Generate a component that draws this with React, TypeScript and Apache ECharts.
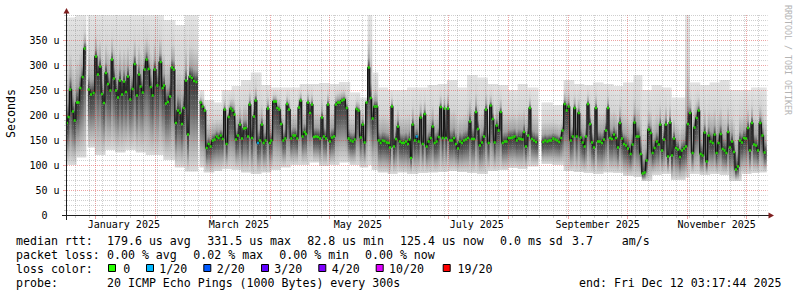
import React, { useEffect, useRef } from 'react';
import * as echarts from 'echarts';

// ---------- time frame ----------
const DAY = 86400000;
const JAN1 = Date.UTC(2025, 0, 1);
const END = Date.UTC(2025, 11, 12, 3, 17, 44);
const START = END - 360 * DAY;
const t = (d: number) => JAN1 + d * DAY;

// ---------- data (days since 2025-01-01, median rtt in µs) ----------
const days: number[] = [
  -14.2, -13.3, -12.5, -11.1, -10.2, -9.0, -8.2, -7.3, -6.1, -5.1,
  -4.0, -3.0, -1.8, -0.5, 0.7, 1.7, 2.9, 3.8, 4.8, 5.8,
  6.9, 8.1, 8.9, 9.9, 11.0, 12.0, 13.0, 14.1, 15.1, 16.1,
  17.1, 18.3, 19.5, 20.6, 21.7, 22.8, 23.6, 24.7, 25.7, 26.7,
  27.7, 28.8, 29.8, 30.8, 32.2, 33.9, 34.9, 35.6, 36.6, 37.6,
  38.7, 39.7, 40.6, 41.7, 42.8, 43.8, 44.8, 45.7, 46.9, 47.9,
  48.9, 49.9, 51.0, 52.2, 53.3, 54.4, 55.4, 56.5, 57.5, 58.5,
  59.5, 60.6, 61.6, 62.6, 63.6, 64.7, 65.7, 66.7, 67.7, 68.8,
  69.8, 70.8, 71.8, 72.5, 73.5, 74.6, 75.6, 76.6, 77.5, 78.7,
  79.5, 80.7, 81.7, 82.6, 83.8, 84.8, 85.8, 86.7, 87.7, 88.9,
  89.9, 90.6, 92.0, 93.0, 93.7, 94.7, 95.7, 96.8, 97.8, 98.7,
  99.7, 100.9, 101.9, 102.9, 103.9, 104.8, 105.7, 106.7, 107.7, 108.4,
  109.4, 110.5, 111.5, 112.5, 113.5, 114.6, 115.6, 116.6, 117.6, 118.7,
  119.7, 120.7, 121.7, 122.8, 123.8, 124.8, 125.8, 126.9, 127.9, 129.3,
  130.3, 131.3, 132.4, 133.4, 134.4, 135.4, 136.5, 137.5, 138.5, 139.5,
  140.6, 141.6, 142.6, 143.6, 144.7, 145.7, 146.7, 147.7, 148.7, 149.8,
  150.8, 151.5, 152.5, 153.5, 154.6, 155.6, 156.6, 157.6, 158.7, 159.7,
  160.7, 161.5, 162.3, 163.1, 164.2, 165.2, 166.2, 167.2, 168.3, 169.3,
  170.3, 171.3, 172.4, 173.4, 174.4, 175.4, 176.5, 177.5, 178.5, 179.5,
  180.2, 181.2, 182.3, 183.3, 184.3, 185.3, 186.4, 187.4, 188.4, 189.4,
  190.5, 191.5, 192.5, 193.5, 194.6, 195.6, 196.6, 197.6, 198.7, 199.7,
  200.7, 202.1, 203.1, 204.2, 205.2, 206.2, 207.2, 208.3, 209.3, 210.3,
  211.3, 212.4, 213.4, 214.4, 215.4, 216.5, 217.5, 218.5, 219.5, 220.2,
  221.2, 222.3, 223.2, 224.3, 225.3, 226.4, 228.3, 230.1, 231.1, 232.2,
  233.2, 234.2, 235.2, 236.3, 237.3, 238.3, 239.3, 240.0, 241.1, 242.1,
  243.1, 244.2, 245.2, 246.2, 247.2, 248.3, 249.3, 250.3, 251.3, 252.0,
  253.0, 254.1, 255.1, 256.1, 257.1, 258.2, 259.2, 260.2, 261.2, 262.3,
  263.3, 264.3, 265.3, 266.4, 267.4, 268.4, 269.4, 270.5, 271.5, 272.5,
  273.5, 274.9, 275.9, 276.9, 278.0, 279.0, 280.1, 281.1, 282.1, 283.1,
  284.2, 285.2, 286.2, 287.2, 288.3, 289.3, 290.1, 291.0, 292.0, 293.0,
  294.1, 295.1, 296.1, 297.1, 298.2, 299.2, 300.2, 301.2, 302.3, 303.3,
  304.3, 305.4, 306.7, 307.7, 308.8, 309.8, 310.8, 311.8, 312.9, 313.9,
  314.9, 315.9, 317.0, 318.0, 319.0, 320.0, 321.1, 322.1, 323.1, 324.0,
  324.9, 325.8, 326.9, 327.9, 328.9, 329.9, 331.0, 332.0, 333.0, 334.1,
  335.1, 336.1, 337.1, 338.2, 339.2, 340.2, 341.4, 342.5, 343.6,
];

const median: (number | null)[] = [
  184, 196, 251, 207, 189, 225, 225, 254, 276, 333,
  null, 251, 241, 244, 317, 281, 297, 242, 224, 284,
  262, 249, 311, 273, 249, 235, 269, 241, 267, 246,
  277, 231, 252, 302, 239, 281, 257, 245, 291, 311,
  292, 256, 239, 291, 259, 306, 254, 259, 223, 226,
  237, 295, 291, 184, 209, 204, 182, 214, 269, 161,
  277, 274, 268, 266, null, 225, 217, 209, 134, 142,
  137, 149, 151, 157, 154, 159, 152, 211, 142, 196,
  213, 209, 201, 151, 159, 181, 153, 173, 174, 157,
  221, 154, 197, 229, 144, 149, 181, 144, 149, 213,
  144, 149, 227, 227, 214, 211, 182, 149, 153, 222,
  211, 153, 159, 159, 153, 215, 229, 157, 166, 162,
  225, 204, 221, 156, 157, 156, 153, 195, 157, 153,
  221, 147, 155, 157, 221, 225, 225, 229, 231, 214,
  153, 149, 147, 151, 212, 209, 155, 181, 145, 225,
  295, 234, 193, 217, 217, 149, 144, 149, 148, 145,
  144, 135, 217, 137, 152, 177, 147, 144, 144, 147,
  142, 151, 114, 181, 149, 157, 147, 195, 142, 202,
  137, 147, 154, 177, 144, 147, 156, 216, 154, 213,
  154, 213, 149, 149, 154, 142, 133, 147, 144, 149,
  151, 154, 187, 152, 152, 206, 172, 139, 145, 157,
  211, 144, 219, 192, 145, 179, 169, 206, 144, 147,
  147, 154, 154, 155, 157, 149, 153, 152, 151, 166,
  137, 159, 214, 152, 149, 146, null, 146, 149, 147,
  149, 149, 153, 151, 149, 146, 154, 169, 222, 209,
  217, 149, 157, 214, 157, 204, 155, 145, 137, 157,
  222, 182, 145, 135, 214, 147, 147, 144, 151, 169,
  214, 154, 152, 161, 154, 135, 184, 153, 142, 139,
  133, 122, 141, 185, 157, 157, 122, 83, 85, 109,
  171, 164, 124, 134, 147, 141, 181, 129, 151, 181,
  117, 185, 119, 153, 134, 131, 116, 129, 133, 137,
  182, 204, 124, 175, 194, 209, 122, 119, 165, 107,
  159, 147, 144, 161, 124, 144, 162, 132, 129, 124,
  166, 135, 147, 126, 91, 97, 149, 145, 154, 153,
  174, 129, 184, 141, 139, 129, 184, 159, 125,
];

// days whose median had 1/20 packet loss
const loss1Days: number[] = [83.8, 165.2];

// smoke envelope (min / max ping) by stretches starting at these days
const smokeFrom: number[] = [
  -14.7, -9.5, -4.4, 0.7, 5.8, 10.5, 15.6, 20.7, 25.8, 30.5,
  35.6, 40.7, 45.8, 52.5, 55.6, 60.7, 65.3, 70.4, 75.6, 80.7,
  85.3, 90.4, 95.6, 100.7, 105.3, 110.4, 115.6, 120.7, 125.3, 130.5,
  135.6, 139.7, 142.5, 145.3, 150.4, 155.6, 160.7, 165.9, 171.0, 176.1,
  181.2, 186.4, 191.5, 196.6, 201.7, 206.9, 212.0, 217.1, 222.3, 230.0,
  235.1, 240.2, 245.4, 250.5, 255.6, 260.8, 265.9, 271.0, 276.1, 280.2,
  285.8, 290.9, 296.0, 302.7, 305.1, 310.0, 315.1, 320.2, 325.3, 332.0,
  337.1, 341.2,
];
const smokeLow: number[] = [
  100, 115, 135, 120, 130, 125, 130, 125, 120, 120,
  110, 95, 87, 95, 85, 88, 92, 90, 85, 82,
  85, 90, 95, 100, 100, 105, 98, 100, 105, 100,
  95, 100, 90, 85, 82, 85, 82, 84, 85, 86,
  88, 86, 84, 82, 88, 90, 94, 92, 97, 102,
  100, 88, 86, 84, 82, 85, 84, 78, 76, 68,
  80, 82, 70, 75, 82, 80, 82, 80, 68, 82,
  84, 85,
];
const smokeHigh: number[] = [
  395, 400, 400, 400, 400, 400, 400, 400, 400, 400,
  390, 380, 400, 250, 230, 225, 250, 258, 270, 285,
  260, 255, 255, 255, 262, 262, 264, 262, 266, 245,
  235, 400, 285, 255, 250, 250, 255, 255, 260, 262,
  270, 255, 280, 275, 262, 260, 250, 262, 255, 225,
  220, 270, 262, 260, 265, 262, 258, 265, 280, 250,
  260, 255, 235, 400, 265, 260, 265, 270, 250, 250,
  255, 255,
];

// ---------- axis text ----------
const xLabelText: string[] = ['January 2025', 'March 2025', 'May 2025', 'July 2025', 'September 2025', 'November 2025'];
const xLabelDays: number[] = [15, 74, 135, 196, 258, 319];

// ---------- legend text ----------
const legendRows: [number, number, string][] = [
  [16, 241, 'median rtt:'], [107, 241, '179.6 us avg'], [207.3, 241, '331.5 us max'],
  [307.3, 241, '82.8 us min'], [400, 241, '125.4 us now'], [500, 241, '0.0 ms sd'],
  [572, 241, '3.7'], [621.7, 241, 'am/s'],
  [16, 255, 'packet loss:'], [107, 255, '0.00 % avg'], [193.3, 255, '0.02 % max'],
  [279.3, 255, '0.00 % min'], [365, 255, '0.00 % now'],
  [16, 269, 'loss color:'],
  [16, 283, 'probe:'], [107, 283, '20 ICMP Echo Pings (1000 Bytes) every 300s'],
  [579, 283, 'end: Fri Dec 12 03:17:44 2025'],
];
const lossLabels: string[] = ['0', '1/20', '2/20', '3/20', '4/20', '10/20', '19/20'];
const lossColors: string[] = ['#26ff00', '#00b8ff', '#0059ff', '#5e00ff', '#7e00ff', '#dd00ff', '#ff0000'];
const lossBoxX: number[] = [108, 146, 203.3, 261, 318.3, 375.7, 442.7];
const lossTextX: number[] = [123.3, 159.3, 216.7, 274.3, 331.7, 389, 457.5];

const MONO = '"DejaVu Sans Mono", monospace';
const GRID = 'rgba(140,140,140,0.42)';
const MGRID = 'rgba(215,50,50,0.45)';

function smokeAt(d: number) {
  let k = 0;
  for (let j = 0; j < smokeFrom.length; j++) if (smokeFrom[j] <= d) k = j;
  return k;
}

function smokeFill(m: number) {
  const s = (v: number) => Math.min(1, Math.max(0, v));
  return new echarts.graphic.LinearGradient(0, 0, 0, 1, [
    { offset: 0, color: '#e4e4e4' },
    { offset: s(m * 0.5), color: '#d3d3d3' },
    { offset: s(m * 0.82), color: '#a4a4a4' },
    { offset: s(m), color: '#383838' },
    { offset: s(m + (1 - m) * 0.3), color: '#5e5e5e' },
    { offset: s(m + (1 - m) * 0.7), color: '#acacac' },
    { offset: 1, color: '#dcdcdc' },
  ]);
}

export default function App() {
  const ref = useRef<HTMLDivElement>(null);

  useEffect(() => {
    if (!ref.current) return;
    const chart = echarts.init(ref.current, null, { renderer: 'svg' });

    const weekGrid: number[] = [];
    for (let w = Date.UTC(2024, 11, 22); w < END; w += 7 * DAY) weekGrid.push(w);
    const monthGrid: number[] = [];
    for (let m = 0; m < 12; m++) monthGrid.push(Date.UTC(2025, m, 1));
    const hValues: number[] = [];
    for (let v = 10; v <= 400; v += 10) hValues.push(v);

    const labelTimes = xLabelDays.map((d) => t(d));
    const medData = days.map((d, i) => [t(d), median[i] == null ? '-' : median[i]]);

    const graphics: any[] = [
      // axes
      { type: 'line', z: 100, shape: { x1: 66.5, y1: 220, x2: 66.5, y2: 13 }, style: { stroke: '#1f1f1f', lineWidth: 1 } },
      { type: 'polygon', z: 100, shape: { points: [[63.5, 13.5], [69.5, 13.5], [66.5, 8]] }, style: { fill: '#7f1f1f' } },
      { type: 'line', z: 100, shape: { x1: 62, y1: 215.5, x2: 769, y2: 215.5 }, style: { stroke: '#1f1f1f', lineWidth: 1 } },
      { type: 'polygon', z: 100, shape: { points: [[768.5, 212.5], [768.5, 218.5], [774, 215.5]] }, style: { fill: '#7f1f1f' } },
      // axis title
      {
        type: 'text', z: 100, x: 10.5, y: 113.5, rotation: Math.PI / 2,
        style: { text: 'Seconds', font: `11.6px ${MONO}`, fill: '#000', align: 'center', verticalAlign: 'middle' },
      },
      {
        type: 'text', z: 100, x: 787.5, y: 60, rotation: -Math.PI / 2,
        style: { text: 'RRDTOOL / TOBI OETIKER', font: `8.3px ${MONO}`, fill: '#b4b4b4', align: 'center', verticalAlign: 'middle' },
      },
    ];
    legendRows.forEach(([x, y, text]) => {
      graphics.push({
        type: 'text', z: 100, x, y,
        style: { text, font: `11.6px ${MONO}`, fill: '#000', align: 'left', verticalAlign: 'middle' },
      });
    });
    lossLabels.forEach((lab, i) => {
      graphics.push({
        type: 'rect', z: 100, shape: { x: lossBoxX[i] + 0.5, y: 264.5, width: 7, height: 7 },
        style: { fill: lossColors[i], stroke: '#000', lineWidth: 1 },
      });
      graphics.push({
        type: 'text', z: 100, x: lossTextX[i], y: 269,
        style: { text: lab, font: `11.6px ${MONO}`, fill: '#000', align: 'left', verticalAlign: 'middle' },
      });
    });

    const option: any = {
      animation: false,
      backgroundColor: '#ffffff',
      grid: { left: 65.6, top: 15, width: 702, height: 200, containLabel: false },
      xAxis: {
        type: 'value', min: START, max: END,
        axisLine: { show: false }, axisTick: { show: false }, splitLine: { show: false },
        axisLabel: {
          customValues: labelTimes,
          formatter: (v: number) => {
            const i = labelTimes.indexOf(v);
            return i >= 0 ? xLabelText[i] : '';
          },
          fontFamily: MONO, fontSize: 10, color: '#000', margin: 4,
        },
      },
      yAxis: {
        type: 'value', min: 0, max: 400, interval: 50,
        axisLine: { show: false }, axisTick: { show: false }, splitLine: { show: false },
        axisLabel: {
          formatter: (v: number) => (v === 0 ? '{z|0}' : v >= 400 ? '' : `${v} u`),
          fontFamily: MONO, fontSize: 10, color: '#000', margin: 6,
          rich: { z: { fontFamily: MONO, fontSize: 10, color: '#000', padding: [0, 12, 0, 0] } },
        },
      },
      series: [
        {
          type: 'custom', name: 'smoke', silent: true, clip: true, z: 1,
          data: medData,
          renderItem: (params: any, api: any) => {
            const i = params.dataIndex;
            const m = median[i];
            if (m == null) return null;
            const d = days[i];
            const dl = i > 0 ? (days[i - 1] + d) / 2 : d - 0.5;
            const dr = i < days.length - 1 ? (d + days[i + 1]) / 2 : d + 0.8;
            const k = smokeAt(d);
            const hi = Math.max(smokeHigh[k], m + 6);
            const lo = Math.min(smokeLow[k], m - 6);
            const a = api.coord([t(dl), hi]);
            const b = api.coord([t(dr), lo]);
            const frac = (hi - m) / (hi - lo);
            return {
              type: 'rect',
              shape: { x: a[0], y: a[1], width: b[0] - a[0] + 0.6, height: b[1] - a[1] },
              style: { fill: smokeFill(frac) },
            };
          },
        },
        {
          type: 'custom', name: 'vgrid', silent: true, clip: false, z: 2,
          data: [...weekGrid.map((w) => [w, 0]), ...monthGrid.map((m) => [m, 1])],
          renderItem: (params: any, api: any) => {
            const tt = api.value(0);
            const kind = api.value(1);
            const p = api.coord([tt, 0]);
            const x = Math.round(p[0]) + 0.5;
            const yb = 215.5;
            const yt = api.coord([tt, 400])[1];
            const color = kind ? MGRID : GRID;
            return {
              type: 'group',
              children: [
                { type: 'line', shape: { x1: x, y1: yt, x2: x, y2: 215 }, style: { stroke: color, lineWidth: 1, lineDash: [1, 1] } },
                { type: 'line', shape: { x1: x, y1: yb, x2: x, y2: yb + (kind ? 3.5 : 2.5) }, style: { stroke: color, lineWidth: 1 } },
              ],
            };
          },
        },
        {
          type: 'custom', name: 'hgrid', silent: true, clip: false, z: 2,
          data: hValues.map((v) => [START, v]),
          renderItem: (params: any, api: any) => {
            const v = api.value(1);
            const major = v % 50 === 0 && v < 400;
            const p = api.coord([START, v]);
            const y = Math.round(p[1]) + 0.5;
            const x2 = api.coord([END, v])[0];
            const color = major ? MGRID : GRID;
            return {
              type: 'group',
              children: [
                { type: 'line', shape: { x1: 67, y1: y, x2: x2, y2: y }, style: { stroke: color, lineWidth: 1, lineDash: [1, 1] } },
                { type: 'line', shape: { x1: major ? 63 : 64, y1: y, x2: 66, y2: y }, style: { stroke: color, lineWidth: 1 } },
              ],
            };
          },
        },
        {
          type: 'line', name: 'medianStep', silent: true, step: 'middle', z: 3,
          showSymbol: false, connectNulls: false,
          lineStyle: { color: '#151515', width: 1.3 },
          data: medData,
        },
        {
          type: 'scatter', name: 'median', silent: true, z: 4,
          symbol: 'rect', symbolSize: [2.2, 2.5],
          itemStyle: {
            color: (p: any) => (loss1Days.indexOf(days[p.dataIndex]) >= 0 ? lossColors[1] : lossColors[0]),
          },
          data: medData,
        },
      ],
      graphic: graphics,
    };

    chart.setOption(option);
    return () => chart.dispose();
  }, []);

  return (
    <div
      ref={ref}
      style={{ position: 'fixed', left: 0, top: 0, width: 797, height: 297, background: '#fff' }}
    />
  );
}
